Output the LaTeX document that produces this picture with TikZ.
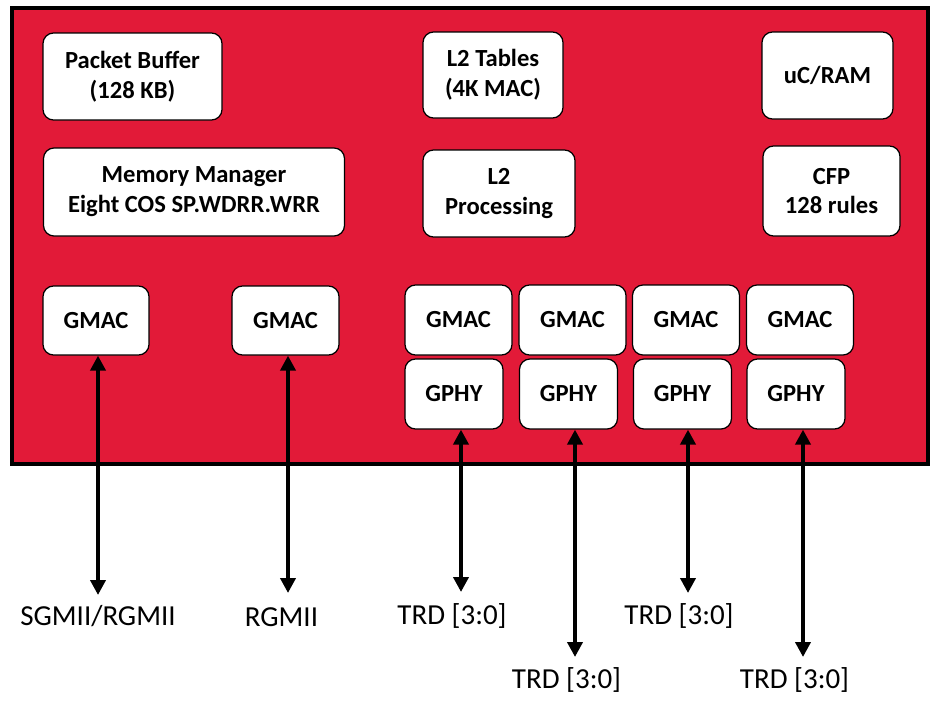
\documentclass[tikz,border=0pt]{standalone}
\usepackage{fontspec}
\setmainfont{Carlito}
\usetikzlibrary{arrows.meta}

\definecolor{chipred}{RGB}{226,26,56}
\newlength\px
\setlength\px{0.02cm}

\tikzset{
  blk/.style={draw=black, line width=0.7pt, fill=white, rounded corners=6pt,
    align=center, inner sep=0pt, font=\fontsize{14}{17}\selectfont\bfseries},
  sig/.style={line width=2.2pt,
    {Triangle[length=8.5pt,width=8.5pt]}-{Triangle[length=8.5pt,width=8.5pt]}},
  pin/.style={inner sep=0pt, font=\fontsize{16.5}{20}\selectfont}
}

\begin{document}
\begin{tikzpicture}[x=0.02cm, y=-0.02cm]
        \useasboundingbox (0,0) rectangle (943,700);

        %Chip outline
        \draw[line width=1.8pt, fill=chipred] (12,8) rectangle (928,464);

        %Top row
        \node[blk, minimum width=179\px, minimum height=87\px] (pbuf) at (132.5,76.5) {Packet Buffer\\(128 KB)};
        \node[blk, minimum width=140\px, minimum height=86\px] (l2tab) at (493,75) {L2 Tables\\(4K MAC)};
        \node[blk, minimum width=131\px, minimum height=87\px] (ucram) at (827.5,75.5) {uC/RAM};

        %Second row
        \node[blk, minimum width=301\px, minimum height=88\px] (memmgr) at (194,192) {Memory Manager\\Eight COS SP.WDRR.WRR};
        \node[blk, minimum width=152\px, minimum height=87\px] (l2proc) at (499,193.5) {L2\\Processing};
        \node[blk, minimum width=137\px, minimum height=90\px] (cfp) at (831.5,191) {CFP\\128 rules};

        %GMAC row
        \node[blk, minimum width=106\px, minimum height=69\px] (gmaca) at (96,320.5) {GMAC};
        \node[blk, minimum width=107\px, minimum height=69\px] (gmacb) at (285.5,320.5) {GMAC};
        \foreach \i/\x in {1/458.5, 2/572.5, 3/686, 4/800}
            \node[blk, minimum width=107\px, minimum height=70\px] (gmac\i) at (\x,320) {GMAC};

        %GPHY row
        \foreach \i/\x in {1/454, 2/568.5, 3/682.5, 4/796}
            \node[blk, minimum width=98\px, minimum height=70\px] (gphy\i) at (\x,394) {GPHY};

        %Arrow ends
        \coordinate (sgmiiend) at (98,595);
        \coordinate (rgmiiend) at (288,593);
        \coordinate (trdend1) at (461,592);
        \coordinate (trdend2) at (575,657);
        \coordinate (trdend3) at (688,593);
        \coordinate (trdend4) at (803,657);

        %Pin labels
        \node[pin] (sgmii) at (98,616) {SGMII/RGMII};
        \node[pin] (rgmii) at (281.5,617) {RGMII};
        \node[pin] (trd1) at (452,616) {TRD [3:0]};
        \node[pin] (trd2) at (566.5,680) {TRD [3:0]};
        \node[pin] (trd3) at (679,616) {TRD [3:0]};
        \node[pin] (trd4) at (794.5,680) {TRD [3:0]};

        %Connections to the pins
        \draw[sig] (sgmiiend |- gmaca.south) -- (sgmiiend);
        \draw[sig] (rgmiiend |- gmacb.south) -- (rgmiiend);
        \foreach \i in {1,...,4}
            \draw[sig] (trdend\i |- gphy\i.south) -- (trdend\i);

\end{tikzpicture}
\end{document}
